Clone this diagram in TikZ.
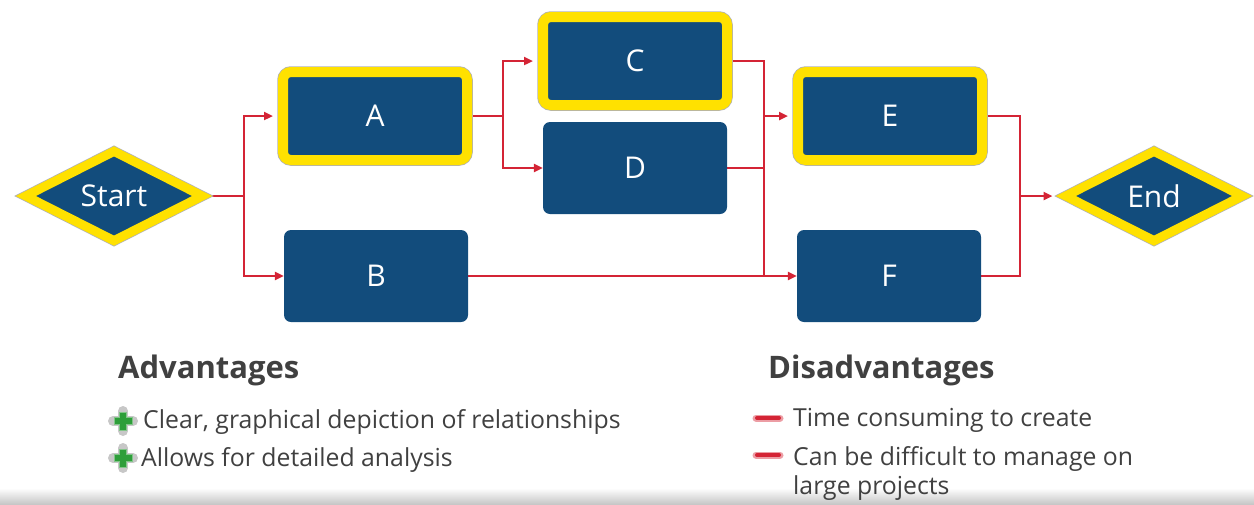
\documentclass[tikz,border=0pt]{standalone}
\usepackage{fontspec}
\setmainfont{Open Sans}
\newfontfamily\nodefont{Open Sans}
\usetikzlibrary{shapes.geometric,arrows.meta,calc}
\definecolor{nblue}{HTML}{124C7C}
\definecolor{nyellow}{HTML}{FFE100}
\definecolor{nred}{HTML}{D42435}
\definecolor{ntext}{HTML}{404040}
\definecolor{ngreen}{HTML}{2E9E3A}
\pgfdeclarelayer{background}
\pgfsetlayers{background,main}
\begin{document}
\begin{tikzpicture}[x=1pt,y=-1pt,
  box/.style={rectangle, rounded corners=7pt, fill=nblue, minimum width=184pt,
    minimum height=92pt, inner sep=0pt, text=white,
    font=\nodefont\fontsize{30}{30}\selectfont},
  hl/.style={box, draw=nyellow, line width=10pt, minimum height=88pt,
    rounded corners=8pt, preaction={draw=black!30, line width=11.5pt}},
  dia/.style={shape=diamond, fill=nblue, draw=nyellow, line width=9pt,
    minimum width=180pt, minimum height=93pt, inner sep=0pt, text=white,
    font=\nodefont\fontsize{30}{30}\selectfont,
    preaction={draw=black!30, line width=10.5pt}},
  conn/.style={draw=nred, line width=2.8pt},
  arr/.style={conn, -{Triangle[length=9pt,width=8pt]}},
  head/.style={anchor=base west, inner sep=0pt, text=ntext, font=\bfseries\fontsize{31}{31}\selectfont},
  item/.style={anchor=base west, inner sep=0pt, text=ntext, align=left, font=\fontsize{24.8}{29}\selectfont}
]
\useasboundingbox (0,0) rectangle (1254,504);
\shade[top color=white, bottom color=black!22] (0,488) rectangle (1254,504);

% nodes
\node[dia] (Start) at (114,196) {Start};
\node[hl]  (A) at (375,116) {A};
\node[box] (B) at (376,276) {B};
\node[hl]  (C) at (635,61) {C};
\node[box] (D) at (635,168) {D};
\node[hl]  (E) at (890,116) {E};
\node[box] (F) at (889,276) {F};
\node[dia] (End) at (1154,196) {End};

% junctions
\coordinate (j1) at (244,196);
\coordinate (j2) at (503,116);
\coordinate (j3) at (764,276);
\coordinate (j4) at (1020,196);

\begin{pgfonlayer}{background}
\draw[conn] (Start.east) -- (j1);
\draw[arr, shorten >=5pt] (j1) |- (A.west);
\draw[arr] (j1) |- (B.west);
\draw[conn] (A.east) -- (j2);
\draw[arr, shorten >=5pt] (j2) |- (C.west);
\draw[arr] (j2) |- (D.west);
\draw[conn] (C.east) -| (j3);
\draw[conn] (D.east) -- (D.east -| j3);
\draw[arr, shorten >=5pt] (j3 |- E.west) -- (E.west);
\draw[arr] (B.east) -- (F.west);
\draw[conn] (E.east) -| (j4);
\draw[conn] (F.east) -| (j4);
\draw[arr, shorten >=7pt] (j4) -- (End.west);
\end{pgfonlayer}

% texts
\node[head] (adv) at (118,378) {Advantages};
\node[item] (a1) at (143,428) {Clear, graphical depiction of relationships};
\node[item] (a2) at (141,466) {Allows for detailed analysis};
\node[head] (dis) at (768,378) {Disadvantages};
\node[item] (d1) at (793,426) {Time consuming to create};
\node[item] (d2) at (793,494) {Can be difficult to manage on\\large projects};

% icons
\coordinate (p1) at (123,421);
\coordinate (p2) at (123,458);
\foreach \p in {p1,p2}{
  \draw[black!22, line width=10pt, line cap=round] (\p) +(-10,0) -- +(10,0) (\p) +(0,-10) -- +(0,10);
  \draw[ngreen!60, line width=8pt] (\p) +(-9.5,0) -- +(9.5,0) (\p) +(0,-9.5) -- +(0,9.5);
  \draw[ngreen, line width=5.5pt] (\p) +(-8.5,0) -- +(8.5,0) (\p) +(0,-8.5) -- +(0,8.5);
}
\coordinate (m1) at (768,418);
\coordinate (m2) at (768,455);
\foreach \m in {m1,m2}{
  \draw[nred!45, line width=7pt, line cap=round] (\m) +(-12,0) -- +(12,0);
  \draw[nred, line width=4pt, line cap=round] (\m) +(-11,0) -- +(11,0);
}
\end{tikzpicture}
\end{document}
